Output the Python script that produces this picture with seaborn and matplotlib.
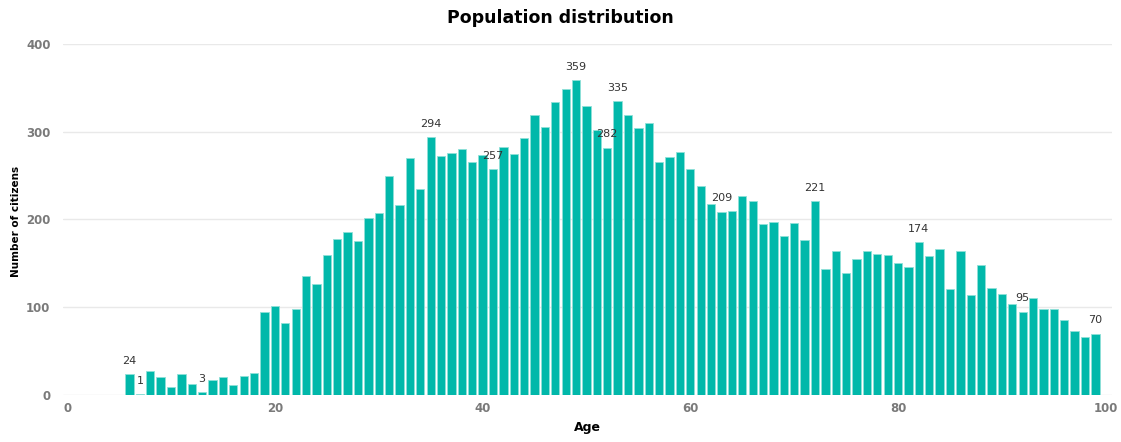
import matplotlib
matplotlib.use("Agg")
import matplotlib.pyplot as plt
import seaborn as sns
import pandas as pd

# Number of citizens per year of age
ages = list(range(6, 100))
citizens = [
    24, 1, 27, 21, 9, 24, 13, 3, 17, 20, 11, 22, 25,            # 6-18
    95, 101, 82, 98, 136, 126, 159, 178, 186, 175, 202,         # 19-29
    207, 249, 216, 270, 235, 294, 272, 276, 280, 266,           # 30-39
    274, 257, 283, 275, 293, 319, 305, 334, 349, 359,           # 40-49
    329, 302, 282, 335, 319, 304, 310, 265, 271, 277,           # 50-59
    257, 238, 218, 209, 210, 227, 221, 195, 197, 181,           # 60-69
    196, 177, 221, 144, 164, 139, 155, 164, 161, 160,           # 70-79
    150, 146, 174, 158, 166, 121, 164, 114, 148, 122,           # 80-89
    115, 104, 95, 110, 98, 98, 86, 73, 66, 70,                  # 90-99
]
# Ages whose bar carries a value label
labelled_ages = [6, 7, 13, 35, 41, 49, 52, 53, 63, 72, 82, 92, 99]

x_ticks = [0, 20, 40, 60, 80, 100]
y_ticks = [0, 100, 200, 300, 400]

df = pd.DataFrame({"Age": ages, "Citizens": citizens})

sns.set_theme(style="white")
plt.rcParams["font.family"] = ["DejaVu Sans"]

fig = plt.figure(figsize=(11.21, 4.42), dpi=100)
ax = fig.add_axes([0.0562, 0.1063, 0.9358, 0.7942])

bar_color = "#01B8AA"
sns.barplot(data=df, x="Age", y="Citizens", native_scale=True, width=0.8,
            color=bar_color, saturation=1, edgecolor="#8fe0d8",
            linewidth=0.6, ax=ax, zorder=3)

ax.set_xlim(-0.4, 100.6)
ax.set_ylim(0, 400)
ax.set_xticks(x_ticks)
ax.set_yticks(y_ticks)
ax.set_xticklabels([str(t) for t in x_ticks])
ax.set_yticklabels([str(t) for t in y_ticks])

ax.grid(axis="y", color="#e9e9e9", linewidth=1.0, zorder=0)
ax.grid(axis="x", visible=False)
for s in ax.spines.values():
    s.set_visible(False)

ax.tick_params(axis="both", length=0, labelsize=8.5, labelcolor="#7a7a7a")
ax.tick_params(axis="x", pad=5)
ax.tick_params(axis="y", pad=9)
for lbl in ax.get_xticklabels() + ax.get_yticklabels():
    lbl.set_fontweight("bold")

ax.set_xlabel("Age", fontsize=9, fontweight="bold", color="black", labelpad=4)
ax.set_ylabel("")
fig.text(0.014, 0.50, "Number of citizens", rotation=90, ha="center",
         va="center", fontsize=7.5, fontweight="bold", color="black")

# Value labels above selected bars
lookup = dict(zip(ages, citizens))
for a in labelled_ages:
    v = lookup[a]
    ax.annotate(str(v), xy=(a, v), xytext=(0, 9.5), textcoords="offset points",
                ha="center", va="center", fontsize=8, color="#333333",
                zorder=5)

fig.text(0.5, 0.960, "Population distribution", ha="center", va="center",
         fontsize=12.5, fontweight="bold", color="black")

fig.savefig("out.png", dpi=100, facecolor="white")
